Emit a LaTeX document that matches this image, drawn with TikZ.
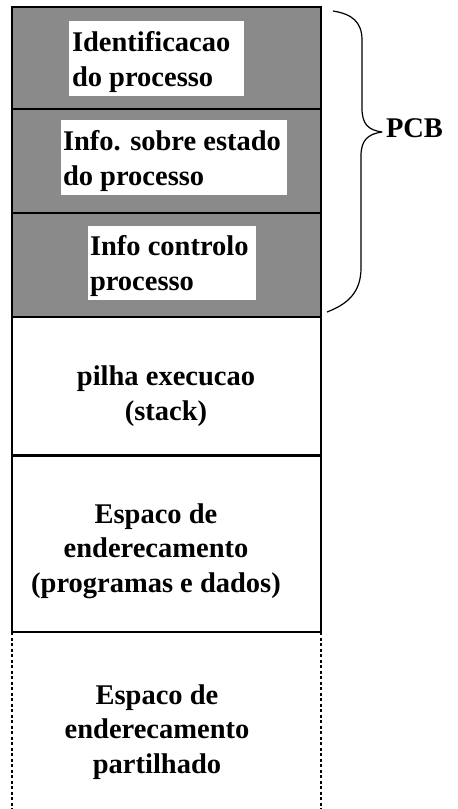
\documentclass[tikz,border=0pt]{standalone}
\usepackage{fontspec}
\setmainfont{Liberation Serif}
\definecolor{shade}{RGB}{138,138,138}
\begin{document}
\begin{tikzpicture}[x=1pt,y=-1pt,
  every node/.style={inner sep=0pt, outer sep=0pt},
  pcbbox/.style={draw, line width=1.4pt, fill=shade, minimum width=309pt, anchor=north west},
  membox/.style={draw, line width=1.4pt, fill=white, minimum width=309pt, anchor=north west},
  whitebox/.style={fill=white, anchor=north west},
  lbl/.style={font=\fontsize{28.5}{34.5}\selectfont\bfseries},
  dotline/.style={line width=1.4pt, dash pattern=on 3pt off 2.5pt},
  bracestyle/.style={line width=1.2pt, line join=round}]
\useasboundingbox (0,0) rectangle (458,809);
% PCB boxes
\node[pcbbox, minimum height=102pt] (p1) at (12,7) {};
\node[pcbbox, minimum height=104pt] (p2) at (12,109) {};
\node[pcbbox, minimum height=104pt] (p3) at (12,213) {};
% white label backgrounds
\node[whitebox, minimum width=175pt, minimum height=75pt] (w1) at (69,21) {};
\node[whitebox, minimum width=226pt, minimum height=75pt] (w2) at (61,120) {};
\node[whitebox, minimum width=168pt, minimum height=74pt] (w3) at (88,226) {};
\node[lbl, anchor=base west, align=left] (t1) at (72,86) {Identificacao\\do processo};
\node[lbl, anchor=base west, align=left] (t2) at (63,185) {Info. sobre estado\\do processo};
\node[lbl, anchor=base west, align=left] (t3) at (90,290) {Info controlo\\processo};
% memory boxes
\node[membox, minimum height=138pt] (s) at (12,317) {};
\node[membox, minimum height=176pt] (e) at (12,456) {};
\node[lbl, anchor=base, align=center] (ts) at (166,420) {pilha execucao\\(stack)};
\node[lbl, anchor=base, align=center] (te) at (156,592) {Espaco de\\enderecamento\\(programas e dados)};
% shared region
\coordinate (bl) at (12,812);
\coordinate (br) at (321,812);
\draw[dotline] (e.south west) -- (bl);
\draw[dotline] (e.south east) -- (br);
\node[lbl, anchor=base, align=center] (tp) at (157,773) {Espaco de\\enderecamento\\partilhado};
% brace
\coordinate (bt) at (333,11);
\coordinate (tip) at (382,132);
\coordinate (bb) at (327,312);
\draw[bracestyle] (bt) .. controls (352,14) and (362,22) .. (362,40) -- (362,108)
  .. controls (362,124) and (368,130) .. (tip)
  .. controls (368,134) and (361,140) .. (361,156) -- (361,268)
  .. controls (361,292) and (348,304) .. (bb);
\node[lbl, anchor=base west] (pcb) at (386,137) {PCB};
\end{tikzpicture}
\end{document}
